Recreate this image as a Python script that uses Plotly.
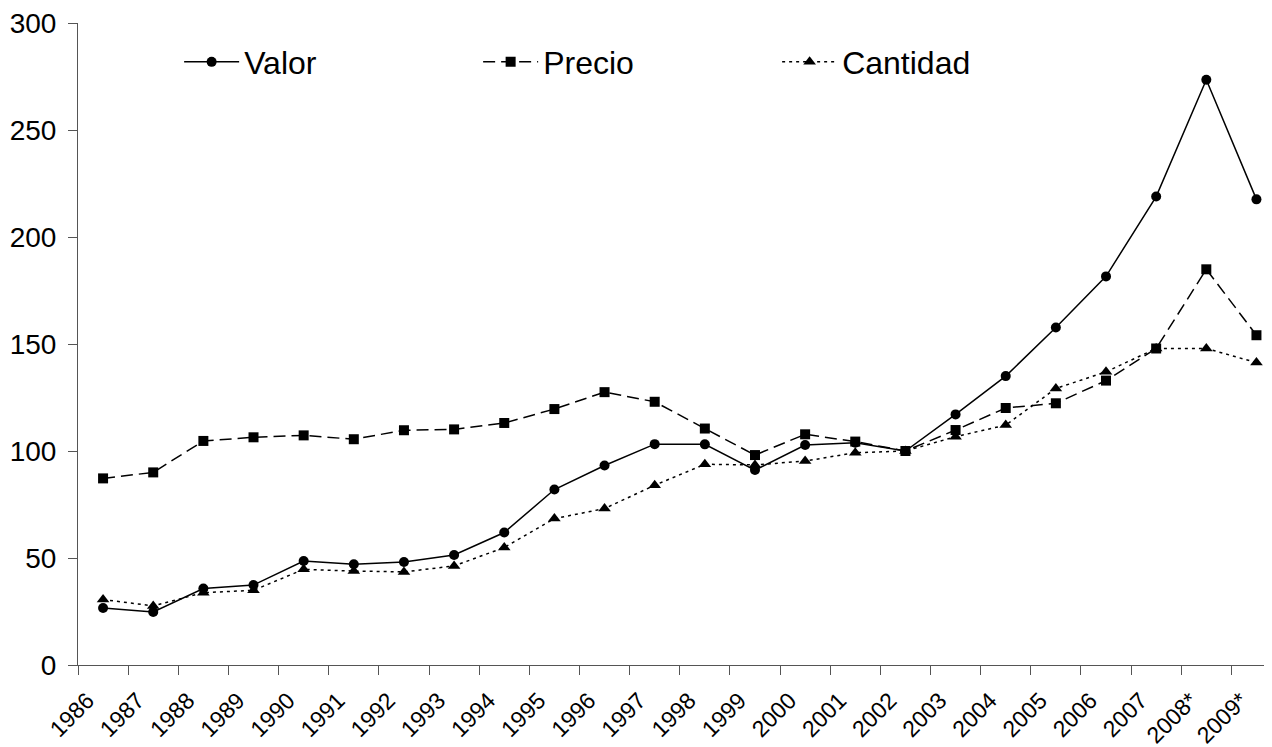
import plotly.graph_objects as go

years = ["1986", "1987", "1988", "1989", "1990", "1991", "1992", "1993", "1994",
         "1995", "1996", "1997", "1998", "1999", "2000", "2001", "2002", "2003",
         "2004", "2005", "2006", "2007", "2008*", "2009*"]

valor = [26.6, 24.8, 35.7, 37.4, 48.6, 47.1, 48.1, 51.4, 61.9, 82.0, 93.2, 103.2,
         103.1, 91.1, 102.8, 103.9, 100.0, 117.1, 135.0, 157.7, 181.6, 218.9, 273.5, 217.6]
precio = [87.2, 90.0, 104.7, 106.4, 107.3, 105.5, 109.7, 110.1, 113.1, 119.6, 127.5, 123.0,
          110.5, 98.1, 107.8, 104.4, 100.0, 109.8, 120.1, 122.3, 132.9, 147.9, 184.9, 154.1]
cantidad = [30.6, 27.6, 33.8, 34.9, 44.7, 43.9, 43.5, 46.3, 54.9, 68.4, 73.1, 84.0,
            93.8, 93.5, 95.3, 99.2, 100.0, 106.7, 112.1, 129.2, 137.0, 147.9, 147.9, 141.3]

FONT = "Liberation Sans, Arial, sans-serif"

idx = list(range(len(years)))
label_pos = [i - 0.31 for i in idx]          # labels sit slightly left of category centre
boundaries = [i - 0.5 for i in idx] + [len(years) - 0.5]

fig = go.Figure()
fig.add_trace(go.Scatter(x=idx, y=valor, name="Valor", mode="lines+markers",
                         line=dict(color="black", width=1.5),
                         marker=dict(symbol="circle", size=10, color="black")))
fig.add_trace(go.Scatter(x=idx, y=precio, name="Precio", mode="lines+markers",
                         line=dict(color="black", width=1.5, dash="12px,6px"),
                         marker=dict(symbol="square", size=10, color="black")))
fig.add_trace(go.Scatter(x=idx, y=cantidad, name="Cantidad", mode="lines+markers",
                         line=dict(color="black", width=1.5, dash="3px,4px"),
                         marker=dict(symbol="triangle-up", size=11, color="black")))

# page body has an 8px default margin, so the figure is sized/offset to compensate
fig.update_layout(
    width=1264, height=739,
    margin=dict(l=70, r=0, t=15, b=82),
    paper_bgcolor="white", plot_bgcolor="white",
    font=dict(family=FONT, color="black"),
    showlegend=True,
    legend=dict(orientation="h", x=0.0847, xanchor="left", y=0.982, yanchor="top",
                font=dict(size=32, family=FONT), entrywidth=229, entrywidthmode="pixels",
                bgcolor="rgba(0,0,0,0)", itemwidth=55),
    xaxis=dict(type="linear", range=[-0.5, 23.31],
               tickmode="array", tickvals=label_pos, ticktext=years, ticks="",
               minor=dict(tickmode="array", tickvals=boundaries, ticks="outside",
                          ticklen=9, tickcolor="#555", tickwidth=1, showgrid=False),
               showline=True, linecolor="#555", linewidth=1, showgrid=False,
               tickangle=-45, tickfont=dict(size=23, family=FONT),
               ticklabelstandoff=12, ticklabeloverflow="allow",
               zeroline=False, automargin=False),
    yaxis=dict(range=[0, 300], tickvals=[0, 50, 100, 150, 200, 250, 300],
               ticks="outside", ticklen=9, tickcolor="#555", tickwidth=1,
               showline=True, linecolor="#555", linewidth=1, showgrid=False,
               zeroline=False, tickfont=dict(size=28, family=FONT), ticklabelstandoff=6,
               ticklabeloverflow="allow", automargin=False),
)

fig.write_html("out.html")
